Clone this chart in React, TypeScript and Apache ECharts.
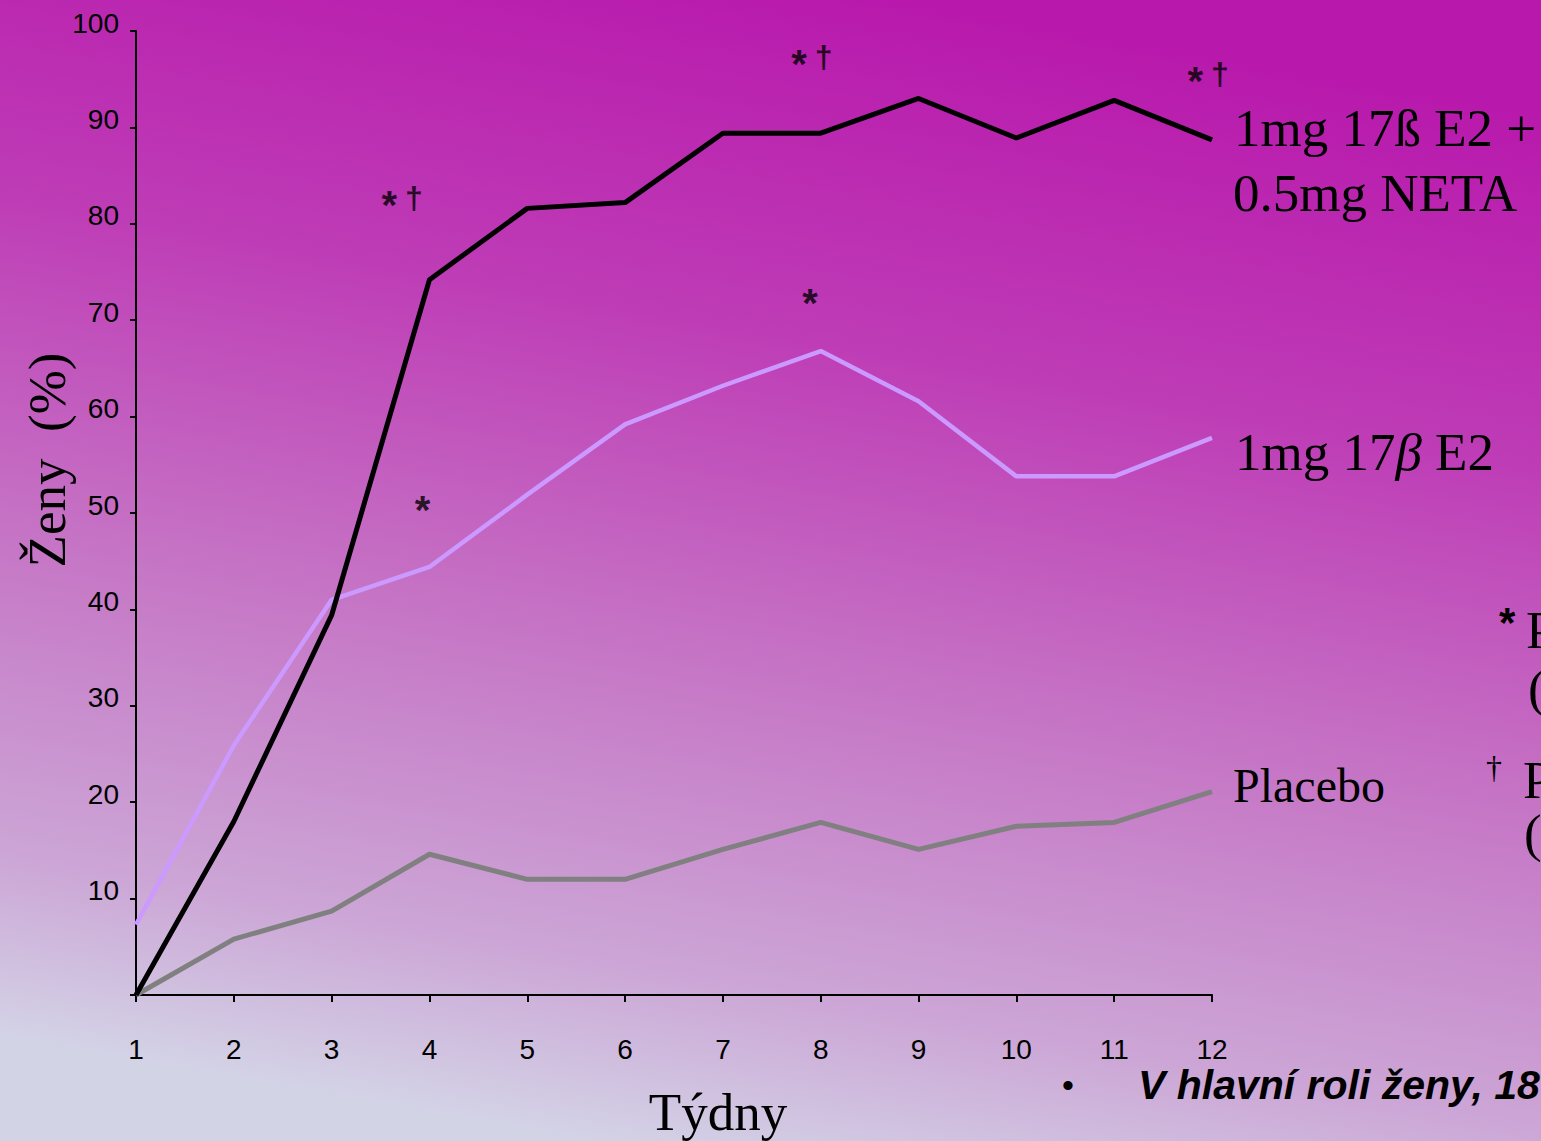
import React, { useEffect, useRef } from "react";
import * as echarts from "echarts";

const weeks = [1, 2, 3, 4, 5, 6, 7, 8, 9, 10, 11, 12];
const comboValues = [0, 18, 39.4, 74.2, 81.6, 82.2, 89.4, 89.4, 93.0, 88.9, 92.8, 88.7];
const e2Values = [7.3, 25.9, 41.0, 44.4, 51.9, 59.2, 63.2, 66.8, 61.6, 53.8, 53.8, 57.8];
const placeboValues = [0, 5.8, 8.7, 14.6, 12.0, 12.0, 15.1, 17.9, 15.1, 17.5, 17.9, 21.1];

const markX = [3.72, 3.93, 7.91, 7.89, 11.96, 12.01];
const markY = [82.7, 51.0, 97.3, 72.5, 95.5, 63.0];
const markText = ["{a|*}{d|†}", "{a|*}", "{a|*}{d|†}", "{a|*}", "{a|*}{d|†}", "{a|*}"];

const yTicks = [10, 20, 30, 40, 50, 60, 70, 80, 90, 100];

const serif = "'Liberation Serif', 'Times New Roman', serif";
const sans = "'Liberation Sans', Arial, sans-serif";

export default function App() {
  const ref = useRef<HTMLDivElement>(null);
  useEffect(() => {
    document.body.style.margin = "0";
    const chart = echarts.init(ref.current!, null, { renderer: "svg" });
    const mkLine = (data: number[], color: string, width: number) => ({
      type: "line",
      data: weeks.map((w, i) => [w, data[i]]),
      symbol: "none",
      lineStyle: { color, width },
      silent: true,
    });
    chart.setOption({
      animation: false,
      backgroundColor: {
        type: "linear",
        x: 0.62,
        y: 0,
        x2: 0.38,
        y2: 1,
        colorStops: [
          { offset: 0, color: "#B818AC" },
          { offset: 0.3, color: "#BE3CB6" },
          { offset: 0.6, color: "#C678C6" },
          { offset: 0.85, color: "#CCA6D6" },
          { offset: 1, color: "#D3D3E6" },
        ],
      },
      grid: { left: 136, right: 329, top: 31, bottom: 146 },
      xAxis: {
        type: "value",
        min: 1,
        max: 12,
        interval: 1,
        splitLine: { show: false },
        axisLine: { lineStyle: { color: "#000", width: 2 } },
        axisTick: { show: true, length: 7, lineStyle: { color: "#000", width: 2 } },
        axisLabel: { color: "#000", fontSize: 28, fontFamily: sans, margin: 40 },
      },
      yAxis: {
        type: "value",
        min: 0,
        max: 100,
        interval: 10,
        splitLine: { show: false },
        axisLine: { lineStyle: { color: "#000", width: 2 } },
        axisTick: { show: true, length: 6, lineStyle: { color: "#000", width: 2 } },
        axisLabel: {
          color: "#000",
          fontSize: 28,
          fontFamily: sans,
          margin: 17,
          verticalAlign: "bottom",
          lineHeight: 16,
          formatter: (v: number) => (yTicks.includes(v) ? String(v) : ""),
        },
      },
      series: [
        mkLine(placeboValues, "#808080", 5),
        mkLine(e2Values, "#CC99FF", 4.5),
        mkLine(comboValues, "#000000", 5),
        {
          type: "scatter",
          data: markX.map((x, i) => ({ value: [x, markY[i]], name: markText[i] })),
          symbol: "circle",
          symbolSize: 1,
          itemStyle: { color: "rgba(0,0,0,0)" },
          silent: true,
          label: {
            show: true,
            position: "inside",
            formatter: (p: any) => p.name,
            color: "#000",
            fontFamily: sans,
            rich: {
              a: { fontSize: 40, fontWeight: "bold", fontFamily: sans, color: "#000", padding: [14, 0, 0, 0] },
              d: { fontSize: 32, fontWeight: "bold", fontFamily: sans, color: "#000", padding: [0, 0, 0, 8] },
            },
          },
        },
      ],
      graphic: [
        {
          type: "text",
          x: 47,
          y: 460,
          rotation: Math.PI / 2,
          style: {
            text: "Ženy  (%)",
            font: `53px ${serif}`,
            fill: "#000",
            align: "center",
            verticalAlign: "middle",
          },
        },
        {
          type: "text",
          x: 718,
          y: 1112,
          style: {
            text: "Týdny",
            font: `53px ${serif}`,
            fill: "#000",
            align: "center",
            verticalAlign: "middle",
          },
        },
        {
          type: "text",
          x: 1234,
          y: 128,
          style: { text: "1mg 17ß E2 +", font: `53px ${serif}`, fill: "#000", verticalAlign: "middle" },
        },
        {
          type: "text",
          x: 1233,
          y: 193,
          style: { text: "0.5mg NETA", font: `53px ${serif}`, fill: "#000", verticalAlign: "middle" },
        },
        {
          type: "text",
          x: 1235,
          y: 452,
          style: {
            rich: {
              n: { font: `53px ${serif}`, fill: "#000" },
              i: { font: `italic 53px ${serif}`, fill: "#000" },
            },
            text: "{n|1mg 17}{i|β}{n| E2}",
            verticalAlign: "middle",
          },
        },
        {
          type: "text",
          x: 1233,
          y: 785,
          style: { text: "Placebo", font: `48px ${serif}`, fill: "#000", verticalAlign: "middle" },
        },
        {
          type: "text",
          x: 1499,
          y: 622,
          style: { text: "*", font: `bold 42px ${sans}`, fill: "#000", verticalAlign: "middle" },
        },
        {
          type: "text",
          x: 1526,
          y: 630,
          style: { text: "P", font: `53px ${serif}`, fill: "#000", verticalAlign: "middle" },
        },
        {
          type: "text",
          x: 1528,
          y: 688,
          style: { text: "(", font: `53px ${serif}`, fill: "#000", verticalAlign: "middle" },
        },
        {
          type: "text",
          x: 1486,
          y: 767,
          style: { text: "†", font: `32px ${serif}`, fill: "#000", verticalAlign: "middle" },
        },
        {
          type: "text",
          x: 1523,
          y: 780,
          style: { text: "P", font: `53px ${serif}`, fill: "#000", verticalAlign: "middle" },
        },
        {
          type: "text",
          x: 1524,
          y: 833,
          style: { text: "(", font: `53px ${serif}`, fill: "#000", verticalAlign: "middle" },
        },
        {
          type: "text",
          x: 1068,
          y: 1085,
          style: { text: "•", font: `34px ${sans}`, fill: "#000", align: "center", verticalAlign: "middle" },
        },
        {
          type: "text",
          x: 1138,
          y: 1085,
          style: {
            text: "V hlavní roli ženy, 18",
            font: `italic bold 41px ${sans}`,
            fill: "#000",
            verticalAlign: "middle",
          },
        },
      ],
    });
    return () => chart.dispose();
  }, []);
  return <div ref={ref} style={{ width: 1541, height: 1141 }} />;
}
